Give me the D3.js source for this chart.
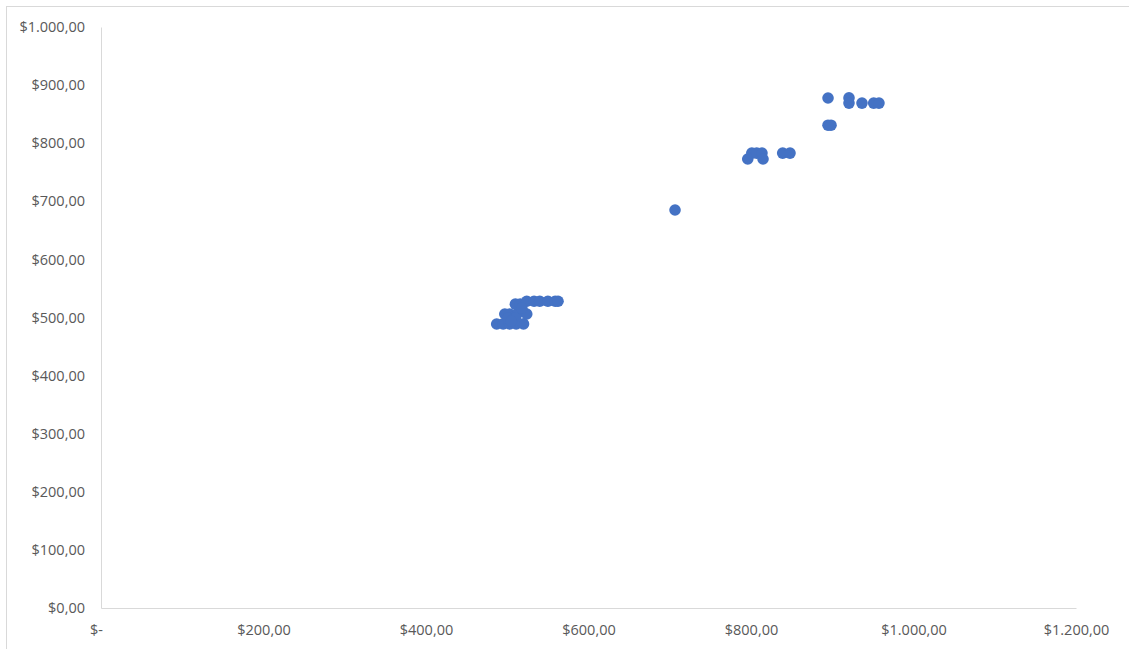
<!DOCTYPE html>
<html>
<head>
<meta charset="utf-8">
<script src="https://cdn.jsdelivr.net/npm/d3@7"></script>
<style>
  html, body { margin: 0; padding: 0; background: #fff; }
  svg { display: block; }
  .tick text { font-family: "Open Sans", "Noto Sans", sans-serif; font-size: 14.5px; fill: #595959; }
</style>
</head>
<body>
<svg id="chart" width="1129" height="649"></svg>
<script>
// Price pairs: x = first price, y = second price
const xValues = [
  894.8, 920.6, 920.6, 936.6, 951.0, 957.5, 894.8, 898.5,
  796.0, 801.0, 807.0, 813.5, 814.8, 839.0, 848.0,
  706.5,
  487.0, 495.0, 503.0, 511.0, 520.0,
  497.0, 503.0, 512.0, 524.0,
  501.0, 510.0, 505.0,
  510.0, 516.0,
  524.0, 533.0, 540.0, 550.0, 559.0, 562.5,
  518.0
];
const yValues = [
  877.8, 878.0, 869.0, 869.0, 869.0, 869.0, 831.0, 831.0,
  772.8, 783.0, 783.0, 783.0, 772.8, 783.0, 783.0,
  685.0,
  488.8, 489.0, 489.0, 489.0, 489.0,
  506.0, 506.0, 506.0, 506.0,
  499.0, 499.0, 494.0,
  523.0, 523.0,
  528.0, 528.0, 528.0, 528.0, 528.0, 528.0,
  516.0
];
const xTicks = [0, 200, 400, 600, 800, 1000, 1200];
const yTicks = [0, 100, 200, 300, 400, 500, 600, 700, 800, 900, 1000];

const points = xValues.map((x, i) => ({ x, y: yValues[i] }));

// Currency formatting with "." thousands and "," decimals
const locale = d3.formatLocale({ decimal: ",", thousands: ".", grouping: [3], currency: ["$", ""] });
const money = locale.format("$,.2f");
const xLabel = v => v === 0 ? "$-" : money(v);

const svg = d3.select("#chart");

// outer chart frame
svg.append("rect")
  .attr("x", 6.5).attr("y", 6.5)
  .attr("width", 1130).attr("height", 660)
  .attr("fill", "none").attr("stroke", "#d9d9d9");

const plot = { left: 101, right: 1076, top: 27, bottom: 608 };
const x = d3.scaleLinear().domain([0, 1200]).range([plot.left, plot.right]);
const y = d3.scaleLinear().domain([0, 1000]).range([plot.bottom, plot.top]);

const xAxis = svg.append("g")
  .attr("transform", `translate(0,${plot.bottom})`)
  .call(d3.axisBottom(x).tickValues(xTicks).tickFormat(xLabel).tickSize(0).tickPadding(17));
xAxis.select(".domain").attr("stroke", "#d9d9d9").attr("stroke-width", 1);
xAxis.selectAll(".tick").filter(d => d === 0).select("text").attr("dx", -5);

const yAxis = svg.append("g")
  .attr("transform", `translate(${plot.left},0)`)
  .call(d3.axisLeft(y).tickValues(yTicks).tickFormat(money).tickSize(0).tickPadding(16));
yAxis.select(".domain").attr("stroke", "#d9d9d9").attr("stroke-width", 1);

svg.append("g")
  .selectAll("circle")
  .data(points)
  .join("circle")
  .attr("cx", d => x(d.x))
  .attr("cy", d => y(d.y))
  .attr("r", 5.8)
  .attr("fill", "#4472c4");
</script>
</body>
</html>
